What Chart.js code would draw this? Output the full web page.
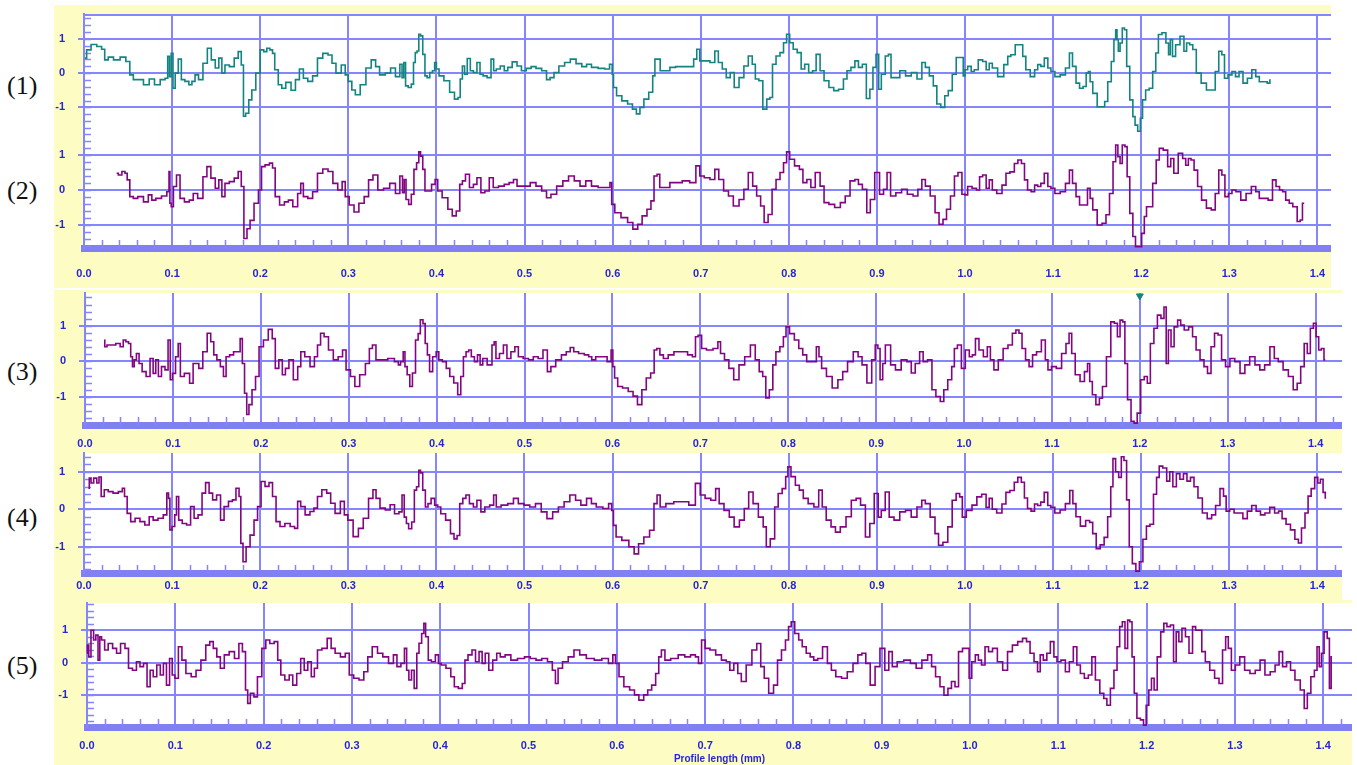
<!DOCTYPE html>
<html>
<head>
<meta charset="utf-8">
<script src="https://cdn.jsdelivr.net/npm/chart.js@4.4.1/dist/chart.umd.min.js"></script>
<style>
  body { margin: 0; background: #fff; width: 1357px; height: 765px; position: relative; overflow: hidden; }
  canvas { position: absolute; }
  .tag { position: absolute; left: 7px; font: 26px "Liberation Serif", "Times New Roman", serif; color: #111; line-height: 30px; }
</style>
</head>
<body>
<canvas id="c1" width="1277" height="127" style="left:54px;top:5px"></canvas>
<canvas id="c2" width="1277" height="156" style="left:54px;top:132px"></canvas>
<canvas id="c3" width="1288" height="162" style="left:54px;top:290px"></canvas>
<canvas id="c4" width="1288" height="148" style="left:54px;top:452px"></canvas>
<canvas id="c5" width="1298" height="165" style="left:54px;top:600px"></canvas>
<div class="tag" style="top:71px">(1)</div>
<div class="tag" style="top:176px">(2)</div>
<div class="tag" style="top:357px">(3)</div>
<div class="tag" style="top:503px">(4)</div>
<div class="tag" style="top:651px">(5)</div>
<script>
// profile height (um) against position along the profile (mm)
const profile1 = [[0.001,0.44],[0.005,0.68],[0.011,0.84],[0.018,0.78],[0.022,0.70],[0.025,0.39],[0.030,0.47],[0.037,0.39],[0.045,0.47],[0.050,0.34],[0.054,-0.05],[0.058,-0.19],[0.064,-0.19],[0.071,-0.34],[0.077,-0.17],[0.083,-0.34],[0.090,-0.19],[0.094,-0.15],[0.096,0.49],[0.098,-0.10],[0.100,0.58],[0.102,-0.44],[0.105,0.00],[0.109,0.41],[0.112,-0.19],[0.117,-0.24],[0.121,-0.34],[0.124,-0.24],[0.128,-0.05],[0.132,-0.19],[0.138,0.29],[0.142,0.73],[0.147,0.39],[0.151,0.15],[0.155,0.44],[0.158,0.00],[0.162,0.24],[0.168,0.19],[0.173,0.44],[0.177,0.63],[0.180,0.24],[0.182,-1.26],[0.185,-1.17],[0.189,-0.78],[0.192,-0.49],[0.198,0.00],[0.202,0.68],[0.206,0.63],[0.209,0.73],[0.213,0.68],[0.215,0.58],[0.218,0.10],[0.223,-0.34],[0.226,-0.44],[0.232,-0.27],[0.238,-0.50],[0.242,-0.19],[0.247,0.12],[0.251,-0.15],[0.257,-0.24],[0.262,-0.08],[0.268,0.44],[0.274,0.58],[0.280,0.53],[0.283,0.29],[0.289,0.00],[0.295,0.24],[0.298,-0.05],[0.302,-0.24],[0.306,-0.49],[0.310,-0.63],[0.317,-0.34],[0.323,0.15],[0.329,0.39],[0.333,0.19],[0.338,-0.05],[0.346,0.00],[0.350,0.15],[0.357,-0.10],
  [0.360,0.26],[0.362,-0.13],[0.364,0.31],[0.366,-0.37],[0.370,-0.42],[0.373,-0.32],[0.375,0.31],[0.377,0.60],[0.379,0.65],[0.381,1.14],[0.383,1.09],[0.386,0.55],[0.388,-0.08],[0.391,-0.13],[0.394,0.02],[0.397,0.07],[0.399,0.31],[0.401,0.12],[0.405,-0.08],[0.412,-0.22],[0.418,-0.56],[0.423,-0.76],[0.426,-0.71],[0.428,-0.17],[0.431,0.21],[0.433,-0.03],[0.437,0.43],[0.440,0.07],[0.444,0.02],[0.448,0.31],[0.451,-0.03],[0.455,-0.08],[0.460,-0.13],[0.464,0.41],[0.466,0.07],[0.470,0.12],[0.475,0.21],[0.479,0.07],[0.483,0.17],[0.489,0.33],[0.494,0.21],[0.499,0.07],[0.505,0.14],[0.510,0.19],[0.516,0.14],[0.523,0.07],[0.527,-0.19],[0.531,-0.13],[0.536,0.02],[0.542,0.21],[0.549,0.31],[0.555,0.41],[0.562,0.28],[0.568,0.19],[0.573,0.26],[0.579,0.17],[0.588,0.14],[0.594,0.12],[0.599,0.26],[0.600,-0.03],[0.602,-0.42],[0.607,-0.66],[0.614,-0.81],[0.620,-0.90],[0.625,-1.05],[0.629,-1.19],[0.633,-1.00],[0.638,-0.76],[0.644,-0.56],[0.647,-0.08],[0.649,0.41],[0.653,0.41],[0.655,0.07],[0.662,0.07],[0.668,0.17],[0.675,0.19],[0.683,0.19],[0.690,0.19],[0.694,0.41],[0.697,0.70],[0.701,0.36],[0.707,0.36],[0.714,0.31],[0.718,0.65],[0.722,0.31],[0.727,0.12],[0.731,-0.13],[0.736,0.02],[0.740,-0.42],[0.747,-0.13],[0.751,0.21],[0.757,0.50],[0.760,0.26],[0.764,-0.17],[0.768,-0.22],[0.773,-1.05],[0.777,-0.76],[0.780,-0.71],[0.783,0.26],[0.788,0.50],[0.792,0.60],[0.796,0.89],[0.799,1.14],[0.803,0.89],[0.807,0.70],[0.812,0.60],[0.816,0.12],[0.820,0.26],[0.825,0.02],[0.829,0.07],[0.833,0.55],[0.838,0.07],[0.842,-0.22],[0.849,-0.42],[0.853,-0.51],[0.860,-0.47],[0.864,-0.17],[0.868,0.07],[0.873,0.17],[0.877,0.36],[0.881,0.17],[0.886,0.26],[0.890,-0.74],[0.894,-0.47],[0.897,0.17],[0.901,0.55],[0.903,-0.47],[0.907,-0.03],[0.912,0.50],[0.914,0.55],[0.918,-0.13],[0.923,-0.13],[0.929,0.07],[0.936,-0.08],[0.942,0.02],[0.949,-0.17],[0.953,0.31],[0.957,0.17],[0.962,-0.08],[0.966,-0.37],[0.970,-0.90],[0.975,-1.00],[0.979,-0.66],[0.983,-0.51],[0.988,-0.03],[0.992,0.46],[0.997,0.46],[0.999,-0.08],
  [1.001,0.10],[1.005,0.20],[1.009,0.05],[1.012,0.10],[1.018,0.39],[1.022,0.34],[1.026,0.10],[1.029,0.29],[1.033,0.15],[1.041,-0.10],[1.047,0.25],[1.050,0.49],[1.054,0.54],[1.060,0.83],[1.064,0.83],[1.067,0.49],[1.071,0.10],[1.077,-0.10],[1.081,0.10],[1.084,0.25],[1.088,0.20],[1.092,0.44],[1.096,0.15],[1.099,0.05],[1.105,-0.10],[1.111,-0.05],[1.117,0.15],[1.120,0.59],[1.124,0.20],[1.128,-0.29],[1.132,-0.44],[1.136,-0.39],[1.139,0.00],[1.141,0.05],[1.143,-0.25],[1.147,-0.59],[1.153,-0.98],[1.157,-0.98],[1.160,-0.83],[1.164,-0.25],[1.168,0.34],[1.170,0.98],[1.172,1.27],[1.173,0.98],[1.175,0.64],[1.177,0.88],[1.180,1.32],[1.182,1.27],[1.185,0.20],[1.189,-0.78],[1.192,-1.27],[1.194,-1.52],[1.198,-1.70],[1.200,-1.32],[1.203,-0.78],[1.207,-0.49],[1.211,-0.44],[1.215,0.05],[1.218,0.59],[1.221,1.13],[1.226,1.18],[1.230,0.88],[1.232,0.54],[1.234,0.98],[1.237,0.49],[1.241,0.83],[1.247,1.08],[1.250,0.64],[1.253,0.88],[1.257,0.83],[1.260,0.69],[1.265,0.00],[1.271,-0.29],[1.277,-0.49],[1.282,-0.49],[1.286,0.05],[1.290,0.64],[1.293,0.54],[1.296,-0.15],[1.301,-0.05],[1.305,0.05],[1.309,-0.10],[1.313,0.05],[1.318,-0.29],[1.323,-0.15],[1.328,0.10],[1.332,-0.10],[1.336,-0.25],[1.341,-0.25],[1.345,-0.29],[1.347,-0.20]];

const profile2 = [[0.037,0.48],[0.041,0.43],[0.045,0.53],[0.048,0.48],[0.050,0.29],[0.054,-0.19],[0.058,-0.24],[0.064,-0.19],[0.071,-0.34],[0.075,-0.14],[0.079,-0.29],[0.084,-0.24],[0.092,-0.17],[0.096,-0.05],[0.097,0.53],[0.098,-0.38],[0.100,-0.48],[0.103,0.10],[0.107,0.43],[0.111,-0.24],[0.117,-0.34],[0.122,-0.29],[0.126,-0.10],[0.132,-0.24],[0.138,0.38],[0.141,0.67],[0.147,0.34],[0.151,0.05],[0.155,0.29],[0.158,-0.19],[0.162,0.19],[0.168,0.24],[0.173,0.34],[0.177,0.53],[0.180,0.10],[0.183,-1.39],[0.187,-1.11],[0.190,-0.87],[0.196,-0.38],[0.200,0.00],[0.203,0.67],[0.208,0.72],[0.213,0.77],[0.215,0.63],[0.219,-0.19],[0.225,-0.43],[0.230,-0.34],[0.234,-0.29],[0.240,-0.48],[0.245,-0.10],[0.247,0.19],[0.251,-0.19],[0.257,-0.24],[0.262,-0.05],[0.268,0.48],[0.274,0.60],[0.280,0.53],[0.285,0.19],[0.291,0.00],[0.295,0.24],[0.298,-0.19],[0.304,-0.43],[0.309,-0.63],[0.315,-0.38],[0.321,-0.19],[0.325,0.29],[0.331,0.43],[0.336,0.00],[0.344,0.05],[0.350,0.19],[0.357,-0.10],
  [0.360,0.40],[0.363,-0.08],[0.364,0.30],[0.367,-0.27],[0.370,-0.41],[0.373,-0.12],[0.376,0.59],[0.379,0.78],[0.381,1.09],[0.383,0.97],[0.386,0.59],[0.388,-0.03],[0.392,-0.03],[0.397,0.16],[0.400,0.30],[0.403,-0.03],[0.410,-0.22],[0.416,-0.55],[0.420,-0.74],[0.425,-0.60],[0.428,0.16],[0.431,0.26],[0.435,0.45],[0.440,0.07],[0.444,0.16],[0.448,0.35],[0.453,-0.08],[0.457,-0.03],[0.463,0.35],[0.466,0.07],[0.475,0.11],[0.479,0.16],[0.486,0.21],[0.489,0.30],[0.494,0.11],[0.503,0.11],[0.510,0.21],[0.516,0.11],[0.523,-0.03],[0.527,-0.22],[0.533,-0.12],[0.540,0.11],[0.547,0.26],[0.553,0.40],[0.560,0.26],[0.566,0.11],[0.573,0.26],[0.579,0.11],[0.588,0.07],[0.596,0.07],[0.598,0.21],[0.600,-0.41],[0.605,-0.65],[0.614,-0.79],[0.620,-0.93],[0.626,-1.12],[0.631,-0.98],[0.636,-0.74],[0.642,-0.55],[0.645,-0.31],[0.649,0.40],[0.652,0.45],[0.655,0.07],[0.662,0.07],[0.668,0.21],[0.675,0.21],[0.683,0.26],[0.692,0.21],[0.697,0.69],[0.701,0.40],[0.707,0.35],[0.714,0.30],[0.718,0.59],[0.723,0.30],[0.729,-0.03],[0.734,-0.17],[0.740,-0.46],[0.747,-0.27],[0.751,0.02],[0.757,0.50],[0.761,0.11],[0.766,-0.17],[0.770,-0.46],[0.774,-0.93],[0.779,-0.70],[0.783,0.02],[0.788,0.30],[0.792,0.50],[0.796,0.78],[0.799,1.09],[0.803,0.88],[0.810,0.69],[0.814,0.59],[0.818,0.21],[0.823,0.30],[0.827,0.07],[0.833,0.50],[0.838,0.11],[0.842,-0.36],[0.849,-0.41],[0.855,-0.50],[0.862,-0.36],[0.866,-0.17],[0.873,0.26],[0.877,0.30],[0.881,0.16],[0.886,0.02],[0.891,-0.65],[0.894,-0.27],[0.901,0.50],[0.905,-0.12],[0.910,0.02],[0.913,0.50],[0.918,-0.17],[0.925,-0.08],[0.931,0.02],[0.938,-0.12],[0.944,-0.17],[0.949,0.02],[0.953,0.30],[0.957,0.11],[0.964,-0.17],[0.968,-0.65],[0.973,-0.98],[0.977,-0.84],[0.981,-0.55],[0.986,-0.17],[0.990,0.40],[0.994,0.50],[0.999,-0.12],
  [1.001,-0.14],[1.005,0.10],[1.011,0.05],[1.015,0.00],[1.018,0.38],[1.022,0.43],[1.026,0.05],[1.029,0.29],[1.033,0.00],[1.039,-0.10],[1.045,0.14],[1.048,0.48],[1.054,0.52],[1.058,0.76],[1.062,0.86],[1.066,0.76],[1.069,0.29],[1.073,0.00],[1.077,-0.05],[1.081,0.14],[1.084,0.10],[1.088,0.19],[1.092,0.48],[1.096,0.10],[1.099,0.05],[1.105,-0.10],[1.111,-0.05],[1.117,0.19],[1.120,0.57],[1.124,0.19],[1.128,-0.19],[1.132,-0.43],[1.137,-0.43],[1.141,0.05],[1.143,-0.24],[1.147,-0.57],[1.153,-1.00],[1.158,-0.95],[1.162,-0.71],[1.166,-0.10],[1.170,0.81],[1.172,1.29],[1.175,0.95],[1.177,0.76],[1.180,1.29],[1.183,1.24],[1.185,0.38],[1.189,-0.67],[1.192,-1.33],[1.195,-1.62],[1.199,-1.62],[1.202,-1.24],[1.205,-0.76],[1.207,-0.48],[1.211,-0.48],[1.215,0.19],[1.219,0.86],[1.222,1.19],[1.228,1.14],[1.232,0.67],[1.235,0.90],[1.239,0.48],[1.245,1.05],[1.249,0.90],[1.252,0.71],[1.255,0.90],[1.258,0.86],[1.262,0.57],[1.266,0.10],[1.271,-0.29],[1.277,-0.52],[1.282,-0.57],[1.286,-0.10],[1.290,0.57],[1.293,0.43],[1.297,-0.19],[1.301,-0.10],[1.305,0.00],[1.310,-0.05],[1.316,-0.29],[1.322,-0.10],[1.328,0.10],[1.332,-0.05],[1.336,-0.24],[1.341,-0.24],[1.347,-0.29],[1.351,0.29],[1.355,0.10],[1.359,0.00],[1.362,-0.05],[1.366,-0.29],[1.370,-0.38],[1.374,-0.48],[1.380,-0.90],[1.381,-0.86],[1.385,-0.38]];

const profile3 = [[0.022,0.60],[0.023,0.41],[0.027,0.46],[0.032,0.46],[0.038,0.50],[0.042,0.41],[0.045,0.60],[0.048,0.55],[0.051,0.50],[0.053,0.13],[0.055,-0.15],[0.057,0.04],[0.060,0.22],[0.063,-0.06],[0.067,-0.29],[0.072,-0.43],[0.076,0.08],[0.079,-0.34],[0.082,0.04],[0.085,-0.43],[0.089,-0.15],[0.093,-0.24],[0.096,0.60],[0.098,-0.52],[0.101,-0.34],[0.105,0.13],[0.107,0.50],[0.110,-0.43],[0.116,-0.34],[0.122,-0.62],[0.124,-0.06],[0.128,-0.06],[0.131,-0.20],[0.137,0.27],[0.141,0.79],[0.145,0.55],[0.148,0.18],[0.152,0.04],[0.156,-0.15],[0.159,-0.43],[0.162,0.13],[0.167,0.18],[0.171,0.27],[0.175,0.27],[0.178,0.64],[0.180,-0.06],[0.183,-0.90],[0.185,-1.50],[0.188,-1.22],[0.192,-0.80],[0.196,-0.43],[0.200,0.41],[0.206,0.60],[0.211,0.90],[0.215,0.64],[0.218,-0.20],[0.223,0.04],[0.226,-0.38],[0.230,-0.20],[0.234,0.04],[0.240,-0.52],[0.244,-0.15],[0.247,0.27],[0.253,0.13],[0.259,-0.15],[0.263,0.13],[0.266,0.46],[0.270,0.79],[0.274,0.69],[0.280,0.32],[0.285,0.04],[0.291,0.13],[0.295,0.32],[0.299,-0.24],[0.305,-0.43],[0.309,-0.71],[0.316,-0.38],[0.322,-0.06],[0.325,0.36],[0.329,0.46],[0.333,0.04],[0.341,0.04],[0.348,0.08],[0.356,-0.01],
  [0.357,-0.10],[0.361,-0.01],[0.363,0.27],[0.365,-0.15],[0.368,-0.38],[0.371,-0.71],[0.374,-0.33],[0.378,0.60],[0.380,0.78],[0.383,1.17],[0.386,1.06],[0.388,0.50],[0.391,0.18],[0.393,-0.29],[0.398,0.13],[0.401,0.27],[0.404,0.04],[0.409,-0.01],[0.413,-0.20],[0.417,-0.43],[0.422,-0.61],[0.426,-0.94],[0.429,-0.43],[0.432,0.13],[0.435,0.27],[0.438,0.32],[0.441,0.13],[0.445,-0.01],[0.448,0.18],[0.451,-0.10],[0.454,0.08],[0.461,-0.10],[0.465,0.46],[0.466,0.55],[0.469,0.08],[0.474,0.22],[0.478,0.46],[0.482,0.08],[0.487,0.27],[0.491,0.41],[0.495,0.13],[0.502,0.08],[0.507,0.04],[0.513,0.13],[0.518,0.08],[0.524,0.32],[0.528,-0.29],[0.532,-0.15],[0.539,0.04],[0.545,0.18],[0.550,0.27],[0.554,0.39],[0.558,0.27],[0.565,0.22],[0.571,0.18],[0.575,0.13],[0.578,0.04],[0.584,0.13],[0.591,0.13],[0.597,-0.01],[0.600,0.32],[0.601,-0.15],[0.604,-0.47],[0.608,-0.71],[0.615,-0.75],[0.621,-0.85],[0.626,-0.98],[0.631,-1.22],[0.636,-0.80],[0.641,-0.47],[0.646,-0.33],[0.649,0.32],[0.652,0.36],[0.656,0.18],[0.660,0.08],[0.667,0.18],[0.673,0.27],[0.682,0.27],[0.689,0.18],[0.693,0.13],[0.696,0.69],[0.699,0.73],[0.704,0.36],[0.710,0.32],[0.719,0.36],[0.721,0.55],[0.725,0.22],[0.730,0.04],[0.735,-0.20],[0.741,-0.52],[0.747,-0.10],[0.754,0.13],[0.760,0.46],[0.765,0.04],[0.769,-0.29],[0.773,-0.43],[0.776,-1.03],[0.781,-0.80],[0.784,-0.10],[0.788,0.27],[0.793,0.41],[0.796,0.69],[0.799,0.97],[0.804,0.78],[0.810,0.60],[0.814,0.36],[0.819,0.18],[0.823,-0.01],[0.830,-0.01],[0.834,0.41],[0.836,0.13],[0.840,-0.20],[0.847,-0.43],[0.853,-0.75],[0.860,-0.52],[0.864,-0.29],[0.871,-0.01],[0.877,0.27],[0.882,0.13],[0.886,-0.10],[0.893,-0.61],[0.897,0.04],[0.901,0.46],[0.903,0.36],[0.906,-0.52],[0.909,-0.06],[0.912,0.46],[0.914,0.46],[0.919,-0.10],[0.925,-0.24],[0.932,0.04],[0.938,-0.01],[0.942,-0.33],[0.947,-0.06],[0.952,0.27],[0.955,-0.01],[0.962,0.04],[0.965,-0.80],[0.971,-0.99],[0.975,-1.13],[0.979,-0.80],[0.984,-0.52],[0.988,-0.15],[0.990,0.36],[0.995,0.46],[0.999,-0.20],
  [1.004,0.32],[1.008,0.13],[1.011,0.18],[1.015,0.64],[1.019,0.32],[1.025,0.13],[1.028,0.41],[1.032,0.04],[1.036,-0.24],[1.042,0.04],[1.047,0.36],[1.053,0.46],[1.057,0.79],[1.061,0.88],[1.064,0.79],[1.068,0.36],[1.072,0.04],[1.076,-0.15],[1.080,0.18],[1.085,0.27],[1.091,0.60],[1.094,0.04],[1.097,-0.24],[1.102,-0.15],[1.108,-0.20],[1.114,0.22],[1.118,0.50],[1.121,0.79],[1.124,0.22],[1.129,-0.38],[1.135,-0.57],[1.139,-0.29],[1.142,-0.06],[1.144,-0.57],[1.148,-0.94],[1.152,-1.22],[1.156,-1.04],[1.159,-0.71],[1.165,0.13],[1.169,1.11],[1.173,1.07],[1.176,0.69],[1.179,1.16],[1.182,1.11],[1.184,-0.06],[1.188,-1.08],[1.192,-1.69],[1.195,-1.74],[1.199,-1.46],[1.203,-0.52],[1.207,-0.43],[1.210,-0.62],[1.214,0.50],[1.218,0.93],[1.222,1.30],[1.226,1.21],[1.229,1.53],[1.231,-0.06],[1.234,0.88],[1.237,0.41],[1.241,0.97],[1.245,1.16],[1.248,1.02],[1.253,0.88],[1.258,0.97],[1.262,0.69],[1.266,0.32],[1.271,0.04],[1.275,-0.15],[1.279,-0.34],[1.283,0.41],[1.287,0.79],[1.291,0.74],[1.295,0.04],[1.300,-0.15],[1.305,0.08],[1.311,-0.01],[1.317,-0.34],[1.322,-0.10],[1.328,0.13],[1.334,-0.10],[1.339,-0.24],[1.345,-0.10],[1.351,0.41],[1.355,0.08],[1.360,-0.01],[1.366,-0.24],[1.372,-0.43],[1.377,-0.80],[1.381,-0.62],[1.385,-0.15],[1.389,0.50],[1.392,0.22],[1.396,0.93],[1.399,1.07],[1.402,0.69],[1.405,0.32],[1.408,0.36],[1.411,0.04]];

const profile4 = [[0.005,0.56],[0.007,0.83],[0.009,0.70],[0.013,0.83],[0.016,0.70],[0.018,0.86],[0.021,0.34],[0.025,0.52],[0.030,0.47],[0.036,0.43],[0.042,0.47],[0.045,0.56],[0.047,0.34],[0.051,-0.11],[0.055,-0.33],[0.061,-0.24],[0.066,-0.33],[0.072,-0.42],[0.076,-0.20],[0.081,-0.29],[0.087,-0.24],[0.093,-0.15],[0.095,0.43],[0.097,0.29],[0.098,-0.55],[0.102,-0.46],[0.104,-0.15],[0.106,0.34],[0.109,-0.29],[0.114,-0.38],[0.119,-0.42],[0.123,0.07],[0.127,-0.24],[0.132,-0.15],[0.136,0.43],[0.140,0.71],[0.144,0.43],[0.148,0.25],[0.153,0.38],[0.157,-0.29],[0.161,0.07],[0.167,0.21],[0.170,0.25],[0.175,0.56],[0.177,0.34],[0.179,-0.91],[0.182,-1.40],[0.186,-1.00],[0.191,-0.69],[0.195,-0.29],[0.199,0.07],[0.203,0.74],[0.208,0.61],[0.212,0.71],[0.216,0.34],[0.220,-0.33],[0.225,-0.46],[0.231,-0.38],[0.237,-0.46],[0.241,-0.51],[0.244,0.21],[0.248,0.07],[0.254,-0.15],[0.259,-0.06],[0.263,0.03],[0.267,0.34],[0.273,0.52],[0.278,0.43],[0.282,0.16],[0.288,-0.11],[0.294,0.21],[0.297,-0.15],[0.302,-0.29],[0.309,-0.73],[0.314,-0.51],[0.320,-0.24],[0.326,0.29],[0.330,0.52],[0.333,0.29],[0.339,0.03],[0.345,-0.02],[0.350,0.12],
  [0.355,-0.12],[0.360,-0.07],[0.362,0.38],[0.365,-0.21],[0.367,-0.38],[0.370,-0.52],[0.374,-0.34],[0.376,0.51],[0.379,0.60],[0.381,1.04],[0.383,0.97],[0.386,0.51],[0.389,0.06],[0.392,0.15],[0.396,0.29],[0.400,0.11],[0.403,0.06],[0.407,-0.12],[0.414,-0.29],[0.418,-0.65],[0.422,-0.79],[0.425,-0.70],[0.428,0.15],[0.432,0.29],[0.435,0.38],[0.440,0.15],[0.444,0.06],[0.448,0.24],[0.453,-0.07],[0.457,0.06],[0.464,0.11],[0.466,0.38],[0.470,0.06],[0.477,0.11],[0.485,0.15],[0.490,0.29],[0.496,0.15],[0.503,0.11],[0.509,0.06],[0.516,0.15],[0.522,-0.07],[0.529,-0.25],[0.535,-0.07],[0.542,0.06],[0.548,0.20],[0.555,0.38],[0.561,0.24],[0.567,0.11],[0.574,0.29],[0.578,0.15],[0.585,0.06],[0.593,0.02],[0.598,0.15],[0.600,-0.03],[0.602,-0.43],[0.606,-0.74],[0.615,-0.83],[0.622,-1.00],[0.627,-1.19],[0.632,-0.92],[0.639,-0.74],[0.645,-0.56],[0.649,0.15],[0.652,0.38],[0.656,0.06],[0.665,0.15],[0.674,0.20],[0.682,0.20],[0.691,0.11],[0.697,0.69],[0.702,0.38],[0.708,0.29],[0.715,0.24],[0.719,0.55],[0.723,0.15],[0.730,-0.03],[0.735,-0.21],[0.741,-0.47],[0.747,-0.29],[0.752,0.02],[0.757,0.46],[0.762,0.15],[0.769,-0.21],[0.773,-0.47],[0.776,-1.00],[0.782,-0.79],[0.786,0.06],[0.790,0.42],[0.795,0.55],[0.798,0.87],[0.800,1.13],[0.805,0.87],[0.810,0.64],[0.814,0.51],[0.819,0.29],[0.825,0.15],[0.832,0.06],[0.836,0.51],[0.840,0.06],[0.845,-0.29],[0.851,-0.47],[0.855,-0.61],[0.862,-0.47],[0.868,-0.20],[0.874,0.24],[0.879,0.29],[0.884,0.11],[0.890,-0.74],[0.894,-0.38],[0.900,0.42],[0.903,-0.21],[0.907,-0.03],[0.912,0.46],[0.916,-0.21],[0.923,-0.29],[0.929,-0.07],[0.936,-0.03],[0.942,-0.21],[0.949,0.06],[0.953,0.24],[0.957,0.15],[0.964,-0.21],[0.968,-0.65],[0.972,-0.96],[0.978,-0.88],[0.983,-0.47],[0.988,0.24],[0.992,0.42],[0.996,0.33],[0.998,-0.21],[1.005,-0.03],[1.011,0.11],[1.016,0.33],
  [1.022,0.40],[1.026,0.05],[1.029,0.29],[1.033,0.00],[1.039,-0.10],[1.045,0.14],[1.048,0.45],[1.054,0.50],[1.058,0.72],[1.062,0.85],[1.066,0.72],[1.069,0.30],[1.073,0.02],[1.077,-0.05],[1.081,0.14],[1.084,0.10],[1.088,0.19],[1.092,0.45],[1.096,0.10],[1.099,0.05],[1.105,-0.10],[1.111,-0.02],[1.117,0.15],[1.121,0.50],[1.124,0.15],[1.128,-0.20],[1.134,-0.45],[1.140,-0.30],[1.143,-0.35],[1.147,-0.65],[1.151,-1.05],[1.156,-0.95],[1.160,-0.75],[1.164,-0.20],[1.167,0.60],[1.169,1.35],[1.173,1.00],[1.176,0.85],[1.179,1.40],[1.182,1.30],[1.185,0.25],[1.188,-1.00],[1.192,-1.45],[1.196,-1.65],[1.200,-1.40],[1.204,-0.80],[1.208,-0.45],[1.212,-0.40],[1.216,0.40],[1.219,0.85],[1.222,1.15],[1.227,1.10],[1.231,0.75],[1.234,1.00],[1.238,0.60],[1.242,0.95],[1.246,0.80],[1.250,0.95],[1.254,0.75],[1.258,0.85],[1.262,0.60],[1.267,0.30],[1.272,-0.10],[1.278,-0.25],[1.282,-0.15],[1.287,0.10],[1.292,0.55],[1.295,0.35],[1.298,-0.05],[1.303,0.00],[1.308,-0.10],[1.313,-0.10],[1.318,-0.25],[1.323,-0.05],[1.328,0.10],[1.333,-0.05],[1.338,-0.15],[1.343,-0.10],[1.349,0.05],[1.354,-0.10],[1.358,-0.05],[1.362,-0.25],[1.367,-0.40],[1.372,-0.55],[1.377,-0.80],[1.380,-0.90],[1.384,-0.50],[1.388,-0.10],[1.391,0.35],[1.395,0.55],[1.399,0.85],[1.402,0.70],[1.405,0.80],[1.408,0.45],[1.410,0.30]];

const profile5 = [[0.000,0.29],[0.001,0.54],[0.003,0.18],[0.006,1.00],[0.009,0.70],[0.011,0.85],[0.014,0.08],[0.015,0.80],[0.018,0.70],[0.022,0.39],[0.026,0.59],[0.032,0.44],[0.035,0.29],[0.041,0.59],[0.045,0.44],[0.049,-0.17],[0.054,-0.23],[0.058,0.03],[0.062,-0.12],[0.066,-0.02],[0.070,-0.74],[0.073,-0.23],[0.077,-0.43],[0.081,-0.07],[0.085,-0.38],[0.088,-0.02],[0.092,-0.69],[0.095,0.13],[0.098,-0.38],[0.101,-0.48],[0.106,0.49],[0.109,0.08],[0.115,-0.33],[0.121,-0.43],[0.126,-0.23],[0.132,0.08],[0.137,0.54],[0.141,0.65],[0.145,0.44],[0.149,0.18],[0.153,-0.17],[0.158,0.24],[0.164,0.34],[0.170,0.13],[0.174,0.59],[0.178,0.34],[0.181,-0.84],[0.183,-1.25],[0.187,-0.94],[0.191,-1.05],[0.195,-0.43],[0.201,0.44],[0.204,0.70],[0.210,0.59],[0.214,0.65],[0.218,0.08],[0.221,-0.38],[0.227,-0.53],[0.231,-0.38],[0.235,-0.69],[0.240,-0.33],[0.244,0.13],[0.248,-0.23],[0.252,0.03],[0.256,-0.43],[0.259,-0.17],[0.263,0.39],[0.269,0.44],[0.275,0.75],[0.278,0.44],[0.284,0.29],[0.290,0.18],[0.295,0.29],[0.299,-0.38],[0.305,-0.48],[0.311,-0.53],[0.316,-0.28],[0.320,0.18],[0.326,0.49],[0.332,0.29],
  [0.338,0.18],[0.345,-0.02],[0.349,0.24],[0.353,-0.12],[0.358,-0.02],[0.361,0.44],[0.363,-0.23],[0.366,-0.53],[0.369,-0.23],[0.372,-0.79],[0.375,0.29],[0.377,0.60],[0.381,0.90],[0.382,1.21],[0.385,0.80],[0.388,0.08],[0.392,0.03],[0.397,0.24],[0.399,-0.02],[0.403,-0.07],[0.410,-0.17],[0.414,-0.43],[0.418,-0.74],[0.423,-0.79],[0.427,-0.64],[0.429,0.08],[0.434,0.24],[0.438,0.39],[0.442,0.03],[0.446,0.34],[0.449,-0.02],[0.453,0.29],[0.457,-0.23],[0.462,0.08],[0.466,0.29],[0.470,0.18],[0.477,0.24],[0.483,0.08],[0.492,0.13],[0.499,0.18],[0.505,0.13],[0.512,0.08],[0.518,0.13],[0.525,0.03],[0.529,-0.23],[0.532,-0.64],[0.535,-0.17],[0.542,0.03],[0.548,0.18],[0.555,0.39],[0.561,0.24],[0.570,0.13],[0.579,0.08],[0.587,0.13],[0.594,-0.02],[0.597,0.24],[0.600,-0.02],[0.605,-0.43],[0.611,-0.74],[0.618,-0.84],[0.622,-0.99],[0.628,-1.15],[0.633,-0.99],[0.637,-0.84],[0.642,-0.69],[0.646,-0.33],[0.649,0.18],[0.652,0.39],[0.657,0.08],[0.665,0.13],[0.674,0.24],[0.680,0.18],[0.687,0.24],[0.691,0.18],[0.694,-0.02],[0.698,0.70],[0.702,0.44],[0.709,0.39],[0.715,0.24],[0.722,0.08],[0.726,0.03],[0.730,-0.23],[0.735,-0.02],[0.739,-0.33],[0.743,-0.58],[0.750,-0.07],[0.756,0.39],[0.761,0.59],[0.765,-0.12],[0.769,-0.48],[0.775,-0.94],[0.780,-0.69],[0.784,0.08],[0.789,0.39],[0.793,0.70],[0.796,1.11],[0.799,1.26],[0.804,0.90],[0.808,0.70],[0.812,0.49],[0.817,0.29],[0.821,0.18],[0.825,0.08],[0.830,0.13],[0.836,0.49],[0.841,-0.02],[0.845,-0.23],[0.851,-0.43],[0.858,-0.48],[0.864,-0.28],[0.871,-0.02],[0.875,0.24],[0.880,0.29],[0.884,-0.02],[0.890,-0.69],[0.895,-0.12],[0.901,0.44],[0.906,-0.23],[0.910,0.34],[0.914,-0.12],[0.921,0.03],[0.929,0.08],[0.936,-0.02],[0.942,-0.17],[0.949,0.08],[0.955,0.24],[0.958,-0.12],[0.964,-0.43],[0.968,-0.74],[0.973,-1.00],[0.977,-0.79],[0.981,-0.58],
  [0.985,-0.74],[0.989,0.34],[0.994,0.44],[0.998,0.44],[1.000,-0.48],[1.004,0.03],[1.008,0.24],[1.011,0.08],[1.015,-0.07],[1.019,0.49],[1.023,0.34],[1.028,0.44],[1.034,0.03],[1.040,-0.23],[1.045,0.34],[1.051,0.54],[1.057,0.65],[1.062,0.75],[1.066,0.65],[1.070,0.29],[1.075,0.03],[1.078,-0.28],[1.081,0.24],[1.085,0.08],[1.089,0.29],[1.093,0.65],[1.097,0.18],[1.100,0.03],[1.106,0.08],[1.110,-0.28],[1.115,0.03],[1.119,0.49],[1.123,-0.07],[1.127,-0.33],[1.132,-0.48],[1.136,-0.38],[1.140,0.18],[1.144,-0.53],[1.150,-0.94],[1.153,-1.10],[1.157,-1.31],[1.161,-0.79],[1.165,-0.23],[1.168,0.49],[1.171,1.11],[1.174,1.26],[1.177,0.44],[1.180,1.31],[1.182,1.26],[1.185,0.18],[1.187,-0.94],[1.191,-1.71],[1.195,-1.76],[1.198,-1.92],[1.201,-1.31],[1.204,-0.84],[1.207,-0.48],[1.210,-0.84],[1.214,0.18],[1.218,0.95],[1.221,1.21],[1.225,1.11],[1.229,1.16],[1.232,0.03],[1.235,0.95],[1.238,0.65],[1.242,1.06],[1.246,0.80],[1.250,0.29],[1.254,1.11],[1.257,1.00],[1.261,1.00],[1.264,0.34],[1.269,0.03],[1.274,-0.23],[1.280,-0.48],[1.284,-0.64],[1.288,0.39],[1.291,0.80],[1.294,0.44],[1.298,-0.23],[1.303,-0.07],[1.308,0.18],[1.314,-0.23],[1.320,-0.33],[1.326,-0.23],[1.331,0.08],[1.337,-0.38],[1.343,-0.28],[1.348,-0.07],[1.352,0.34],[1.356,-0.12],[1.361,0.03],[1.365,-0.23],[1.371,-0.53],[1.377,-0.84],[1.380,-1.41],[1.384,-0.94],[1.388,-0.43],[1.392,-0.23],[1.394,0.49],[1.397,-0.12],[1.399,0.29],[1.403,0.95],[1.406,0.75],[1.408,-0.79],[1.410,0.18]];

const cursorMark = [[1.2, 1.84]];
const xTickValues = [0, 0.1, 0.2, 0.3, 0.4, 0.5, 0.6, 0.7, 0.8, 0.9, 1.0, 1.1, 1.2, 1.3, 1.4];
const yTickValues = [-1, 0, 1];

const YELLOW = '#fdfcc2';
const GRID = '#8585ff';
const BAR = '#8080f2';
const LABEL = '#2626d6';
const TEAL = '#148482';
const PURPLE = '#820682';
const tickFont = { family: 'Liberation Sans, Arial, sans-serif', size: 11, weight: 'bold' };

const framePlugin = {
  id: 'frame',
  beforeDraw(chart, args, opts) {
    const { ctx, chartArea: a, width, height } = chart;
    ctx.save();
    ctx.fillStyle = YELLOW;
    ctx.fillRect(0, 0, width, height);
    ctx.fillStyle = '#ffffff';
    ctx.fillRect(a.left, a.top, a.right - a.left, a.bottom - a.top);
    ctx.restore();
  },
  beforeDatasetsDraw(chart, args, opts) {
    const { ctx, chartArea: a, scales: { x, y } } = chart;
    ctx.save();
    ctx.strokeStyle = GRID;
    ctx.lineWidth = 1.5;
    ctx.beginPath();
    // minor ticks on the height axis, every 0.2
    for (let k = Math.ceil(y.min / 0.2); k * 0.2 <= y.max; k++) {
      const py = Math.round(y.getPixelForValue(k * 0.2)) + 0.5;
      ctx.moveTo(a.left, py);
      ctx.lineTo(a.left + 7, py);
    }
    // minor ticks above the base bar, every 0.02 mm
    if (opts.baseTicks) {
      for (let k = 1; k * 0.02 <= x.max; k++) {
        if (k % 5 === 0) continue;
        const px = Math.round(x.getPixelForValue(k * 0.02)) + 0.5;
        ctx.moveTo(px, a.bottom);
        ctx.lineTo(px, a.bottom - 8);
      }
    }
    ctx.stroke();
    if (opts.topLine) {
      ctx.lineWidth = 2;
      ctx.beginPath();
      ctx.moveTo(a.left, a.top + 1);
      ctx.lineTo(a.right, a.top + 1);
      ctx.stroke();
    }
    ctx.restore();
  }
};

function panel(id, profile, color, o) {
  const datasets = [{
    data: profile.map(([x, y]) => ({ x, y })),
    borderColor: color,
    borderWidth: 1.6,
    pointRadius: 0,
    stepped: 'middle',
    clip: false
  }];
  if (o.marks) {
    datasets.push({
      data: o.marks.map(([x, y]) => ({ x, y })),
      showLine: false,
      pointStyle: 'triangle',
      rotation: 180,
      pointRadius: 4,
      backgroundColor: TEAL,
      borderColor: TEAL
    });
  }
  return new Chart(document.getElementById(id), {
    type: 'line',
    data: { datasets },
    plugins: [framePlugin],
    options: {
      responsive: false,
      animation: false,
      events: [],
      layout: { autoPadding: false, padding: { top: o.padTop, left: 0, right: 0, bottom: 0 } },
      plugins: {
        legend: { display: false },
        tooltip: { enabled: false },
        frame: { baseTicks: o.showX, topLine: !!o.topLine }
      },
      scales: {
        x: {
          type: 'linear',
          min: 0,
          max: o.xMax,
          afterBuildTicks: s => { s.ticks = xTickValues.map(v => ({ value: v })); },
          afterFit: s => {
            s.height = o.xAxisH;
            s.paddingLeft = 0; s.paddingRight = 0;
          },
          grid: { color: GRID, lineWidth: 2, drawTicks: false },
          border: { display: o.showX, color: BAR, width: 7 },
          ticks: {
            display: o.showX,
            autoSkip: false,
            maxRotation: 0,
            padding: o.labelPad,
            color: LABEL,
            font: tickFont,
            callback: v => Number(v).toFixed(1)
          },
          title: o.title ? {
            display: true,
            text: o.title,
            color: LABEL,
            font: { family: 'Liberation Sans, Arial, sans-serif', size: 10, weight: 'bold' },
            padding: { top: 0, bottom: 0 }
          } : { display: false }
        },
        y: {
          min: o.yMin,
          max: o.yMax,
          afterBuildTicks: s => { s.ticks = yTickValues.map(v => ({ value: v })); },
          afterFit: s => {
            s.width = o.axisW;
            s.paddingTop = 0; s.paddingBottom = 0;
          },
          grid: { color: GRID, lineWidth: 2, drawTicks: true, tickLength: 6, tickColor: GRID },
          border: { color: GRID, width: 2 },
          ticks: { color: LABEL, font: tickFont, padding: 13, callback: v => String(v) }
        }
      }
    }
  });
}

panel('c1', profile1, TEAL,   { xMax: 1.4154, yMin: -1.72, yMax: 1.73, axisW: 30, padTop: 9, xAxisH: 0,  labelPad: 0,  showX: false, topLine: true });
panel('c2', profile2, PURPLE, { xMax: 1.4154, yMin: -1.66, yMax: 1.66, axisW: 30, padTop: 0, xAxisH: 40, labelPad: 19, showX: true });
panel('c3', profile3, PURPLE, { xMax: 1.430,  yMin: -1.794, yMax: 1.924, axisW: 31, padTop: 3, xAxisH: 27, labelPad: 12, showX: true, marks: cursorMark });
panel('c4', profile4, PURPLE, { xMax: 1.428,  yMin: -1.70, yMax: 1.50, axisW: 30, padTop: 1, xAxisH: 27, labelPad: 6,  showX: true });
panel('c5', profile5, PURPLE, { xMax: 1.4326, yMin: -1.978, yMax: 1.837, axisW: 33, padTop: 3, xAxisH: 38, labelPad: 12, showX: true, title: 'Profile length (mm)' });
</script>
</body>
</html>
